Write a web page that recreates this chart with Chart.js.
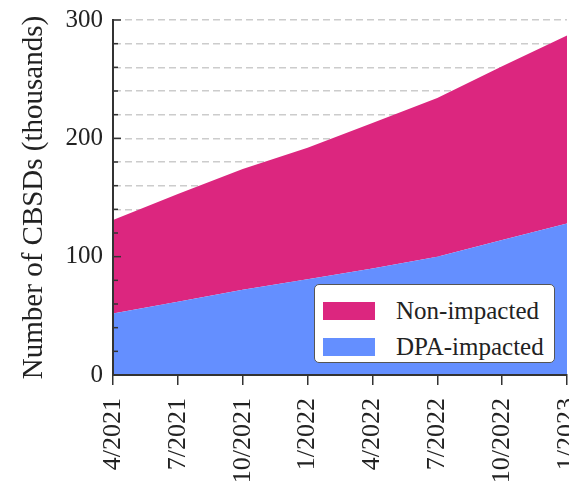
<!DOCTYPE html>
<html lang="en">
<head>
  <meta charset="UTF-8">
  <title>CBSD growth</title>
  <script src="https://cdn.jsdelivr.net/npm/chart.js"></script>
  <style>
    html, body {
      margin: 0;
      padding: 0;
      background: #fff;
      overflow: hidden;
    }
    .wrap {
      position: relative;
      width: 569px;
      height: 486px;
    }
    .legend {
      position: absolute;
      left: 314px;
      top: 284px;
      width: 241px;
      height: 79px;
      box-sizing: border-box;
      border: 1.5px solid #555;
      border-radius: 5px;
      background: #fff;
      font-family: "Liberation Serif", "Times New Roman", serif;
      font-size: 25px;
      color: #222;
      padding-top: 8px;
    }
    .legend .row {
      display: flex;
      align-items: center;
      height: 36px;
    }
    .legend .swatch {
      width: 52px;
      height: 18px;
      margin-left: 8px;
      margin-right: 21px;
    }
  </style>
</head>
<body>
  <div class="wrap">
    <canvas id="chart" width="569" height="486"></canvas>
    <div id="legend" class="legend"></div>
  </div>
  <script>
    const quarters = ['4/2021', '7/2021', '10/2021', '1/2022', '4/2022', '7/2022', '10/2022', '1/2023'];
    // thousands of CBSDs per quarter
    const dpaImpacted = [52, 62, 72, 81, 90, 100, 114, 128];
    const nonImpacted = [79, 91, 102, 111, 123, 134, 147, 159];

    const BLUE = '#648FFF';
    const PINK = '#DC267F';

    Chart.defaults.font.family = '"Liberation Serif", "Times New Roman", serif';
    Chart.defaults.color = '#222';

    // short tick marks pointing into the plot on the y axis, plus axis lines on top of the fill
    const innerTicks = {
      id: 'innerTicks',
      afterDatasetsDraw(chart) {
        const { ctx, chartArea } = chart;
        const y = chart.scales.y;
        ctx.save();
        ctx.strokeStyle = '#333';
        ctx.lineWidth = 1.5;
        y.ticks.forEach(t => {
          const py = y.getPixelForValue(t.value);
          const len = t.value % 100 === 0 ? 8 : 5;
          ctx.beginPath();
          ctx.moveTo(chartArea.left, py);
          ctx.lineTo(chartArea.left + len, py);
          ctx.stroke();
        });
        ctx.lineWidth = 2;
        ctx.beginPath();
        ctx.moveTo(chartArea.left, chartArea.top);
        ctx.lineTo(chartArea.left, chartArea.bottom);
        ctx.lineTo(chartArea.right, chartArea.bottom);
        ctx.stroke();
        ctx.restore();
      }
    };

    const chart = new Chart(document.getElementById('chart'), {
      type: 'line',
      data: {
        labels: quarters,
        datasets: [
          {
            label: 'DPA-impacted',
            data: dpaImpacted,
            backgroundColor: BLUE,
            borderWidth: 0,
            pointRadius: 0,
            fill: 'origin'
          },
          {
            label: 'Non-impacted',
            data: nonImpacted,
            backgroundColor: PINK,
            borderWidth: 0,
            pointRadius: 0,
            fill: '-1'
          }
        ]
      },
      options: {
        responsive: false,
        animation: false,
        layout: { padding: { top: 20, left: 0, right: 2, bottom: 0 } },
        plugins: {
          legend: { display: false },
          tooltip: { enabled: false }
        },
        scales: {
          x: {
            offset: false,
            // fixed axis band; the last date label is allowed to run off the edge
            afterFit: s => {
              s.height = 111;
              s.paddingLeft = 0;
              s.paddingRight = 0;
            },
            grid: {
              drawOnChartArea: false,
              drawTicks: true,
              tickLength: 10,
              color: '#333',
              lineWidth: 1.5
            },
            border: { display: true, color: '#333', width: 2 },
            ticks: {
              autoSkip: false,
              maxRotation: 90,
              minRotation: 90,
              padding: 13,
              font: { size: 26 }
            }
          },
          y: {
            stacked: true,
            min: 0,
            max: 300,
            afterFit: s => {
              s.width = 113;
              s.paddingTop = 0;
              s.paddingBottom = 0;
            },
            grid: {
              drawTicks: false,
              lineWidth: 1.5,
              color: c => (c.tick && c.tick.value === 0) ? 'rgba(0,0,0,0)' : '#cccccc'
            },
            border: { display: true, color: '#333', width: 2, dash: [7, 4] },
            ticks: {
              autoSkip: false,
              stepSize: 20,
              padding: 10,
              font: { size: 25 },
              callback: v => (v % 100 === 0 ? v : '')
            },
            title: {
              display: true,
              text: 'Number of CBSDs (thousands)',
              font: { size: 29 },
              padding: { top: 17, bottom: 0 }
            }
          }
        }
      },
      plugins: [innerTicks]
    });

    // legend box in the lower right of the plot, top entry first
    const legendEl = document.getElementById('legend');
    chart.data.datasets.slice().reverse().forEach(ds => {
      const row = document.createElement('div');
      row.className = 'row';
      const sw = document.createElement('span');
      sw.className = 'swatch';
      sw.style.background = ds.backgroundColor;
      const txt = document.createElement('span');
      txt.textContent = ds.label;
      row.appendChild(sw);
      row.appendChild(txt);
      legendEl.appendChild(row);
    });
  </script>
</body>
</html>
